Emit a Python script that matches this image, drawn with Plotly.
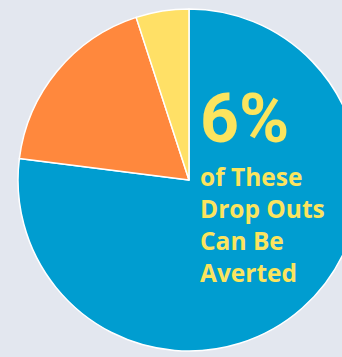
import plotly.graph_objects as go

labels = ["Remaining", "Other", "Averted"]
values = [77, 18, 5]
colors = ["#009DD0", "#FF883D", "#FFE066"]

headline = "6%"
caption_lines = ["of These", "Drop Outs", "Can Be", "Averted"]

W, H = 360, 357
ML, MR, MT, MB = 18, 0, 9, 6
PW, PH = W - ML - MR, H - MT - MB

def px_x(p):
    return (p - ML) / PW

def px_y(p):
    return (H - MB - p) / PH

fig = go.Figure(go.Pie(
    labels=labels,
    values=values,
    marker=dict(colors=colors, line=dict(color="white", width=1.5)),
    sort=False,
    direction="clockwise",
    rotation=0,
    textinfo="none",
    hoverinfo="none",
    showlegend=False,
))

text_color = "#FBE45E"
fig.add_annotation(
    text="<b>%s</b>" % headline,
    xref="paper", yref="paper",
    x=px_x(198), y=px_y(77),
    xanchor="left", yanchor="top",
    showarrow=False,
    font=dict(family="Roboto", size=68, color=text_color),
)
fig.add_annotation(
    text="<b>" + "<br>".join(caption_lines) + "</b>",
    xref="paper", yref="paper",
    x=px_x(197.5), y=px_y(158),
    xanchor="left", yanchor="top",
    align="left",
    showarrow=False,
    font=dict(family="Open Sans", size=24.5, color=text_color),
)

fig.update_layout(
    width=W, height=H,
    margin=dict(l=ML, r=MR, t=MT, b=MB),
    paper_bgcolor="#E3E7EF",
    plot_bgcolor="#E3E7EF",
)

fig.write_html(
    "out.html",
    post_script="document.documentElement.style.overflow='hidden';document.body.style.overflow='hidden';document.body.style.margin='0';",
)
